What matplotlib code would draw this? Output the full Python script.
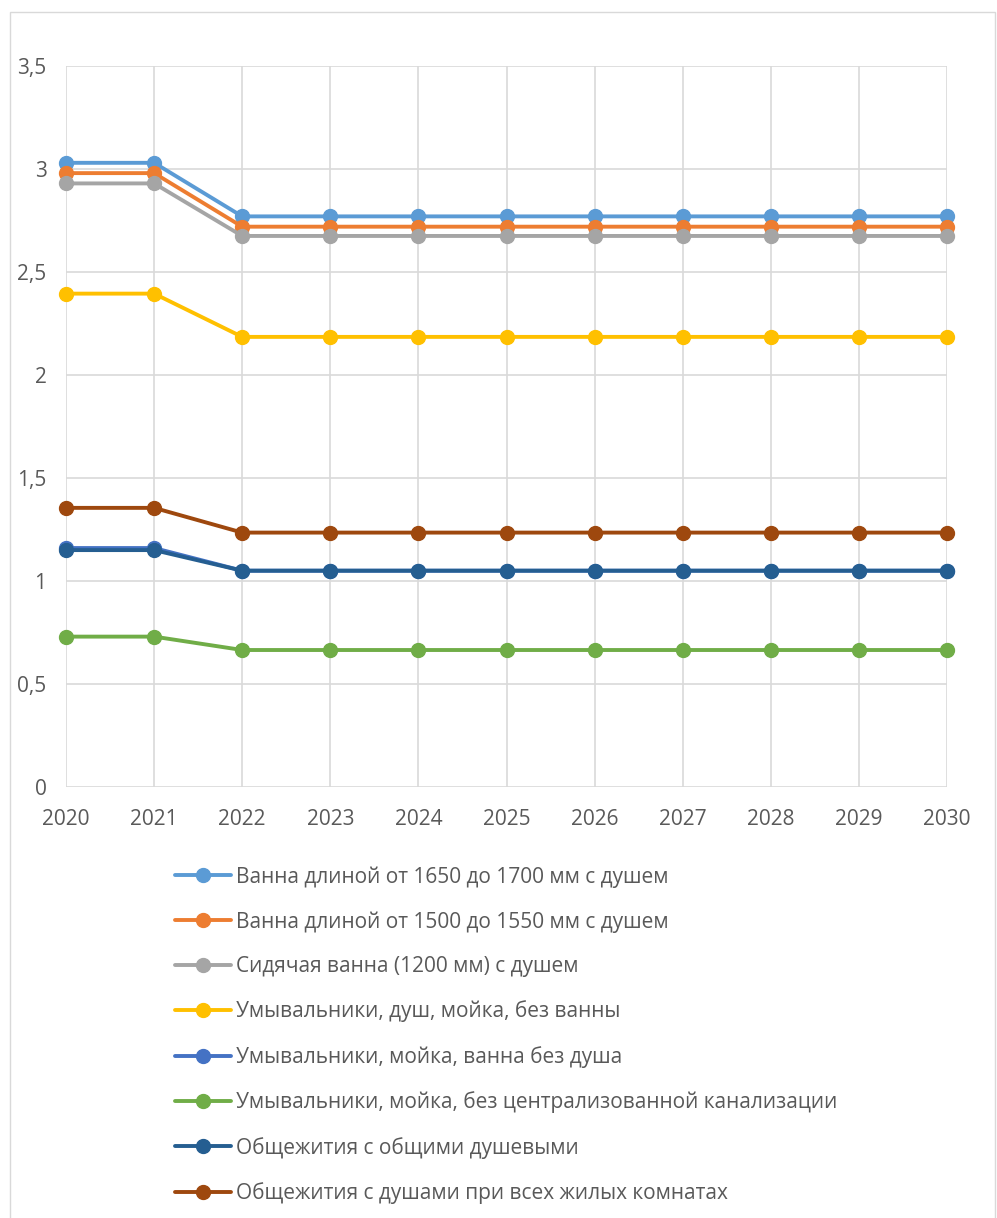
import numpy as np
import matplotlib
matplotlib.use("Agg")
from matplotlib import pyplot as plt
from matplotlib.patches import Rectangle
from matplotlib.ticker import FuncFormatter

# Годы
years = [2020, 2021, 2022, 2023, 2024, 2025, 2026, 2027, 2028, 2029, 2030]

# Значения рядов (до 2021 и с 2022)
vanna_1650 = [3.03, 3.03] + [2.77] * 9
vanna_1500 = [2.98, 2.98] + [2.72] * 9
sidyachaya = [2.93, 2.93] + [2.675] * 9
bez_vanny = [2.395, 2.395] + [2.185] * 9
bez_dusha = [1.16, 1.16] + [1.05] * 9
bez_kanal = [0.73, 0.73] + [0.665] * 9
obshchie_dush = [1.15, 1.15] + [1.05] * 9
dushi_komnaty = [1.355, 1.355] + [1.235] * 9

series = [
    ("Ванна длиной от 1650 до 1700 мм с душем", vanna_1650, "#5B9BD5"),
    ("Ванна длиной от 1500 до 1550 мм с душем", vanna_1500, "#ED7D31"),
    ("Сидячая ванна (1200 мм) с душем", sidyachaya, "#A5A5A5"),
    ("Умывальники, душ, мойка, без ванны", bez_vanny, "#FFC000"),
    ("Умывальники, мойка, ванна без душа", bez_dusha, "#4472C4"),
    ("Умывальники, мойка, без централизованной канализации", bez_kanal, "#70AD47"),
    ("Общежития с общими душевыми", obshchie_dush, "#255E91"),
    ("Общежития с душами при всех жилых комнатах", dushi_komnaty, "#9E480E"),
]

plt.rcParams['font.family'] = ['Open Sans', 'DejaVu Sans']

fig = plt.figure(figsize=(9.97, 12.18), dpi=100)
ax = fig.add_axes([66 / 997, 1 - 787 / 1218, (947 - 66) / 997, (787 - 66) / 1218])

for nazvanie, znach, cvet in series:
    ax.plot(years, znach, color=cvet, lw=2.8, marker='o', markersize=10,
            label=nazvanie, solid_capstyle='round', clip_on=False)

ax.set_xlim(2020, 2030)
ax.set_ylim(0, 3.5)
ax.set_xticks(years)
ax.set_yticks(np.arange(0, 3.51, 0.5))
ax.yaxis.set_major_formatter(FuncFormatter(lambda v, p: ('%g' % v).replace('.', ',')))
ax.grid(True, color='#D9D9D9', lw=1.2)
ax.set_axisbelow(True)
for s in ax.spines.values():
    s.set_visible(False)
ax.tick_params(length=0, labelsize=15, colors='#595959')
ax.tick_params(axis='x', pad=16)
ax.tick_params(axis='y', pad=14)

leg = fig.legend(loc='upper left', bbox_to_anchor=(175 / 997, 1 - 866 / 1218),
                 frameon=False, fontsize=15, labelcolor='#595959',
                 handlelength=2.7, handletextpad=0.25, labelspacing=1.13,
                 borderpad=0, borderaxespad=0)

# рамка вокруг диаграммы
fig.patches.append(Rectangle((10 / 997, -0.01), 985 / 997, 1 - 12 / 1218 + 0.01,
                             transform=fig.transFigure, fill=False,
                             edgecolor='#D9D9D9', lw=1))

fig.savefig('out.png', dpi=100)
